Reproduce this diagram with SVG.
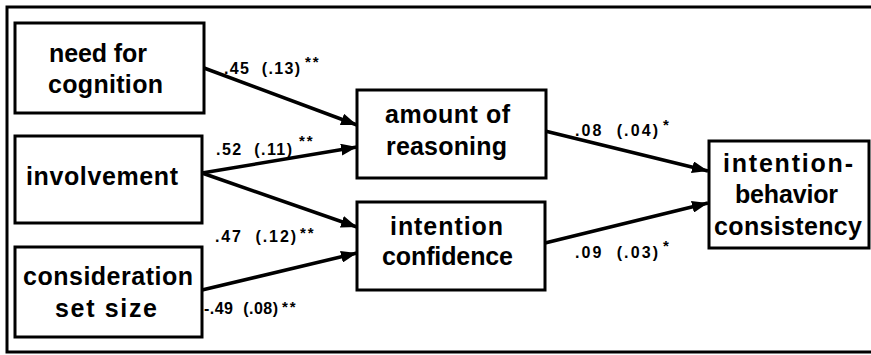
<svg xmlns="http://www.w3.org/2000/svg" width="871" height="355" viewBox="0 0 871 355">
<style>
.box{fill:#fff;stroke:#000;stroke-width:3}
.t{font-family:"Liberation Sans",Arial,Helvetica,sans-serif;font-weight:bold;font-size:25px;fill:#000}
.l{font-family:"Liberation Sans",Arial,Helvetica,sans-serif;font-weight:bold;font-size:16px;fill:#000;white-space:pre}
.s{font-family:"Liberation Sans",Arial,Helvetica,sans-serif;font-weight:bold;font-size:15px;fill:#000;letter-spacing:2px}
.c{stroke:#000;stroke-width:3.5;fill:none;marker-end:url(#ah)}
</style>
<defs>
<marker id="ah" viewBox="0 0 16 12" refX="16" refY="6" markerWidth="16" markerHeight="12" markerUnits="userSpaceOnUse" orient="auto">
<path d="M0,0 L16,6 L0,12 Z" fill="#000"/>
</marker>
</defs>
<rect width="871" height="355" fill="#fff"/>
<path d="M871,7 H7 V352 H871" fill="none" stroke="#000" stroke-width="3"/>
<g id="connectors">
<line class="c" x1="204" y1="68" x2="357" y2="125"/>
<line class="c" x1="202" y1="173" x2="357" y2="147"/>
<line class="c" x1="202" y1="173" x2="357" y2="227"/>
<line class="c" x1="202" y1="290" x2="357" y2="253"/>
<line class="c" x1="545" y1="131" x2="708" y2="171"/>
<line class="c" x1="545" y1="243" x2="708" y2="203"/>
</g>
<g id="edge-labels" xml:space="preserve">
<text class="l" x="224" y="74" textLength="76">.45  (.13)</text><text class="s" x="305" y="66.5">**</text>
<text class="l" x="216" y="155" textLength="76">.52  (.11)</text><text class="s" x="299" y="145.5">**</text>
<text class="l" x="215" y="242" textLength="81">.47  (.12)</text><text class="s" x="300" y="237.5">**</text>
<text class="l" x="204" y="314" textLength="74">-.49  (.08)</text><text class="s" x="282" y="311.5">**</text>
<text class="l" x="575" y="136" textLength="83">.08  (.04)</text><text class="s" x="663" y="129.5">*</text>
<text class="l" x="575" y="258" textLength="83">.09  (.03)</text><text class="s" x="663" y="250.5">*</text>
</g>
<g id="need-for-cognition">
<rect class="box" x="15" y="23" width="189" height="90"/>
<text class="t" x="49" y="62" textLength="98">need for</text>
<text class="t" x="48" y="93" textLength="115">cognition</text>
</g>
<g id="involvement">
<rect class="box" x="15" y="136" width="187" height="87"/>
<text class="t" x="26" y="185" textLength="152">involvement</text>
</g>
<g id="consideration-set-size">
<rect class="box" x="15" y="247" width="187" height="90"/>
<text class="t" x="23" y="285" textLength="170">consideration</text>
<text class="t" x="55" y="317" textLength="102">set size</text>
</g>
<g id="amount-of-reasoning">
<rect class="box" x="357" y="90" width="189" height="88"/>
<text class="t" x="385" y="123" textLength="125">amount of</text>
<text class="t" x="386" y="155" textLength="121">reasoning</text>
</g>
<g id="intention-confidence">
<rect class="box" x="357" y="202" width="188" height="88"/>
<text class="t" x="390" y="235" textLength="113">intention</text>
<text class="t" x="382" y="265" textLength="131">confidence</text>
</g>
<g id="intention-behavior-consistency">
<rect class="box" x="709" y="141" width="160" height="107"/>
<text class="t" x="723" y="172" textLength="130">intention-</text>
<text class="t" x="735" y="203" textLength="103">behavior</text>
<text class="t" x="714" y="235" textLength="148">consistency</text>
</g>
</svg>
